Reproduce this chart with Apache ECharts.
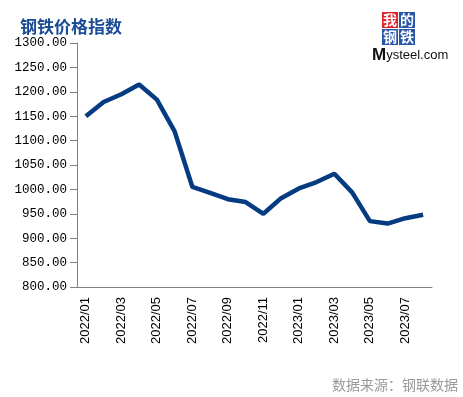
<!DOCTYPE html>
<html>
<head>
<meta charset="utf-8">
<script src="https://cdn.jsdelivr.net/npm/echarts@6/dist/echarts.min.js"></script>
<style>
  html, body { margin: 0; padding: 0; background: #fff; }
  #chart { width: 463px; height: 397px; }
</style>
</head>
<body>
<div id="chart"></div>
<script>
  // 钢铁价格指数 月度数据
  const months = [
    '2022/01', '2022/02', '2022/03', '2022/04', '2022/05', '2022/06', '2022/07', '2022/08', '2022/09', '2022/10',
    '2022/11', '2022/12', '2023/01', '2023/02', '2023/03', '2023/04', '2023/05', '2023/06', '2023/07', '2023/08'
  ];
  const indexValues = [
    1150, 1179, 1195, 1215, 1184, 1119, 1005, 993, 980, 974,
    950, 982, 1002, 1015, 1032, 994, 935, 930, 941, 948
  ];

  const myChart = echarts.init(document.getElementById('chart'));

  const cell = 16;
  const logoX = 382, logoY = 12;

  myChart.setOption({
    animation: false,
    title: {
      text: '钢铁价格指数',
      left: 15,
      top: 13,
      textStyle: {
        fontFamily: 'Noto Sans CJK SC',
        fontSize: 17,
        fontWeight: 'bold',
        color: '#1a4c96',
      },
    },
    grid: {
      left: 77,
      right: 31,
      top: 43,
      bottom: 110,
    },
    xAxis: {
      type: 'category',
      data: months,
      boundaryGap: true,
      axisLine: { lineStyle: { color: '#808080', width: 1 } },
      axisTick: { interval: 1, length: 6, lineStyle: { color: '#808080' } },
      axisLabel: {
        interval: 1,
        rotate: 90,
        margin: 10,
        fontFamily: 'Liberation Sans',
        fontSize: 13,
        color: '#000',
      },
      splitLine: { show: false },
    },
    yAxis: {
      type: 'value',
      min: 800,
      max: 1300,
      interval: 50,
      axisLine: { show: true, lineStyle: { color: '#808080', width: 1 } },
      axisTick: { show: true, length: 7, lineStyle: { color: '#808080' } },
      axisLabel: {
        margin: 10,
        fontFamily: 'Liberation Mono',
        fontSize: 12.5,
        color: '#000',
        formatter: (v) => v.toFixed(2),
      },
      splitLine: { show: false },
    },
    graphic: [
      // 我的钢铁 logo
      { type: 'rect', left: logoX, top: logoY, shape: { width: cell, height: cell }, style: { fill: '#d9252b' } },
      { type: 'rect', left: logoX + cell + 1, top: logoY, shape: { width: cell, height: cell }, style: { fill: '#2a56a8' } },
      { type: 'rect', left: logoX, top: logoY + cell + 1, shape: { width: cell, height: cell }, style: { fill: '#2a56a8' } },
      { type: 'rect', left: logoX + cell + 1, top: logoY + cell + 1, shape: { width: cell, height: cell }, style: { fill: '#2a56a8' } },
      { type: 'text', left: logoX + 1, top: logoY + 1, style: { text: '我', fill: '#fff', font: 'bold 14px "Noto Sans CJK SC"' } },
      { type: 'text', left: logoX + cell + 2, top: logoY + 1, style: { text: '的', fill: '#fff', font: 'bold 14px "Noto Sans CJK SC"' } },
      { type: 'text', left: logoX + 1, top: logoY + cell + 2, style: { text: '钢', fill: '#fff', font: 'bold 14px "Noto Sans CJK SC"' } },
      { type: 'text', left: logoX + cell + 2, top: logoY + cell + 2, style: { text: '铁', fill: '#fff', font: 'bold 14px "Noto Sans CJK SC"' } },
      {
        type: 'text',
        left: 372,
        top: 47,
        style: {
          text: '{m|M}{r|ysteel.com}',
          rich: {
            m: { fontFamily: 'Liberation Sans', fontSize: 17, fontWeight: 'bold', fill: '#111' },
            r: { fontFamily: 'Liberation Sans', fontSize: 13, fill: '#111' },
          },
        },
      },
      // 数据来源
      {
        type: 'text',
        right: 5,
        top: 378,
        style: {
          text: '数据来源：钢联数据',
          fill: '#9a9a9a',
          font: '14px "Noto Sans CJK SC"',
        },
      },
    ],
    series: [
      {
        type: 'line',
        data: indexValues,
        showSymbol: false,
        symbol: 'none',
        lineStyle: { color: '#053b80', width: 4.5 },
      },
    ],
  });

  window.addEventListener('resize', function () {
    myChart && myChart.resize();
  });
</script>
</body>
</html>
